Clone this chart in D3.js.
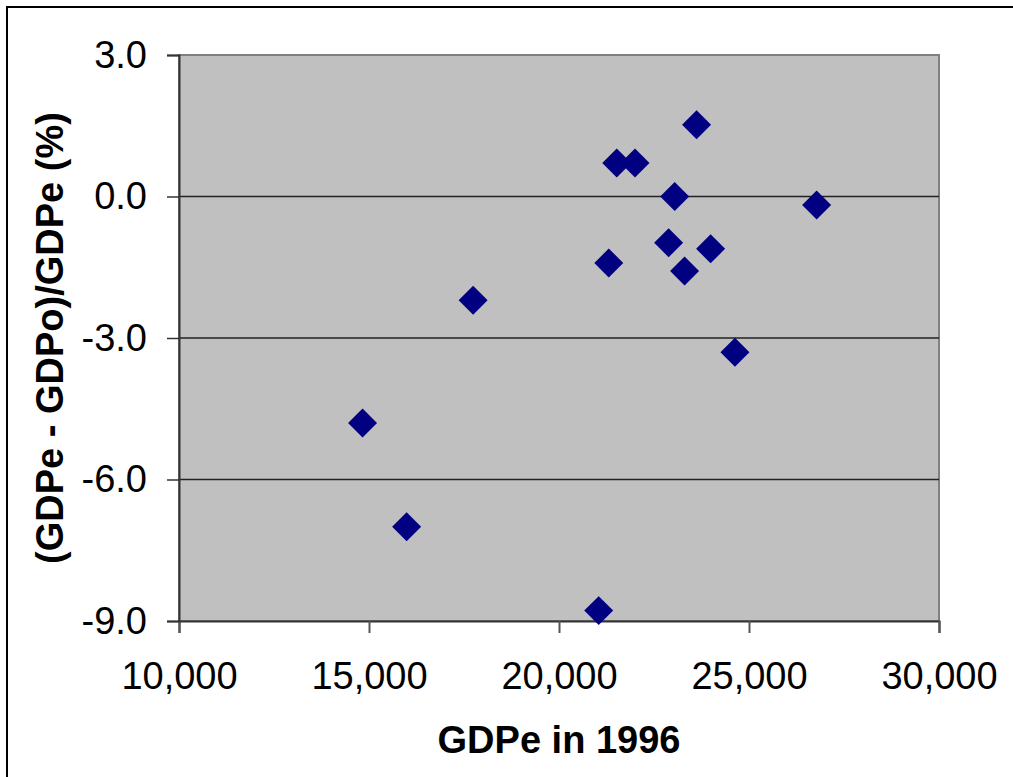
<!DOCTYPE html>
<html><head><meta charset="utf-8">
<script src="https://cdn.jsdelivr.net/npm/d3@7"></script>
<style>html,body{margin:0;padding:0;background:#fff;}svg{display:block;}</style>
</head><body>
<svg id="c" width="1013" height="777"></svg>
<script>
const gdpe = [14830, 15990, 21045, 17740, 23620, 21520, 22000, 23045, 26780, 22885, 23990, 23305, 21310, 24630];
const diffPct = [-4.80, -7.00, -8.78, -2.20, 1.52, 0.71, 0.71, 0.00, -0.18, -0.98, -1.11, -1.58, -1.41, -3.30];
const xTicks = [10000, 15000, 20000, 25000, 30000];
const yTicks = [3, 0, -3, -6, -9];
const xTitle = "GDPe in 1996";
const yTitle = "(GDPe - GDPo)/GDPe (%)";

const svg = d3.select("#c");
const L = 179, R = 939, T = 55, B = 621;
const FONT = "Liberation Sans, Arial, sans-serif";
const x = d3.scaleLinear().domain([10000, 30000]).range([L, R]);
const y = d3.scaleLinear().domain([-9, 3]).range([B, T]);

// outer chart border
svg.append("rect").attr("x", 7).attr("y", 7).attr("width", 1013).attr("height", 800)
  .attr("fill", "#fff").attr("stroke", "#000").attr("stroke-width", 2);

// plot area
svg.append("rect").attr("x", L).attr("y", T).attr("width", R - L).attr("height", B - T)
  .attr("fill", "#c0c0c0").attr("stroke", "#808080").attr("stroke-width", 2);

// gridlines
svg.append("g").selectAll("line").data(yTicks.filter(d => d > -9 && d < 3)).join("line")
  .attr("x1", L).attr("x2", R).attr("y1", d => y(d)).attr("y2", d => y(d))
  .attr("stroke", "#222").attr("stroke-width", 1.3);

// axes
const xAxis = d3.axisBottom(x).tickValues(xTicks).tickSize(12).tickPadding(29)
  .tickFormat(d3.format(","));
const gx = svg.append("g").attr("transform", `translate(0,${B})`).call(xAxis);
gx.select(".domain").attr("stroke", "#333").attr("stroke-width", 2);
gx.selectAll(".tick line").attr("stroke", "#555").attr("stroke-width", 2);
gx.selectAll("text").attr("font-family", FONT).attr("font-size", 38).attr("fill", "#000");

const yAxis = d3.axisLeft(y).tickValues(yTicks).tickSize(12).tickPadding(20)
  .tickFormat(d => d3.format(".1f")(d).replace("\u2212", "-"));
const gy = svg.append("g").attr("transform", `translate(${L},0)`).call(yAxis);
gy.select(".domain").attr("stroke", "#333").attr("stroke-width", 2);
gy.selectAll(".tick line").attr("stroke", "#333").attr("stroke-width", 1.5);
gy.selectAll("text").attr("font-family", FONT).attr("font-size", 38).attr("fill", "#000");

// points
const data = gdpe.map((g, i) => ({g, v: diffPct[i]}));
const sym = d3.symbol().type(d3.symbolSquare).size(420);
svg.append("g").selectAll("path").data(data).join("path")
  .attr("d", sym)
  .attr("transform", d => `translate(${x(d.g)},${y(d.v)}) rotate(45)`)
  .attr("fill", "#000080");

// titles
svg.append("text").attr("x", (L + R) / 2).attr("y", 753).attr("text-anchor", "middle")
  .attr("font-family", FONT).attr("font-weight", "bold")
  .attr("font-size", 38).text(xTitle);
svg.append("text").attr("transform", `translate(63,${(T + B) / 2}) rotate(-90)`)
  .attr("text-anchor", "middle")
  .attr("font-family", FONT).attr("font-weight", "bold")
  .attr("font-size", 38).text(yTitle);
</script>
</body></html>
